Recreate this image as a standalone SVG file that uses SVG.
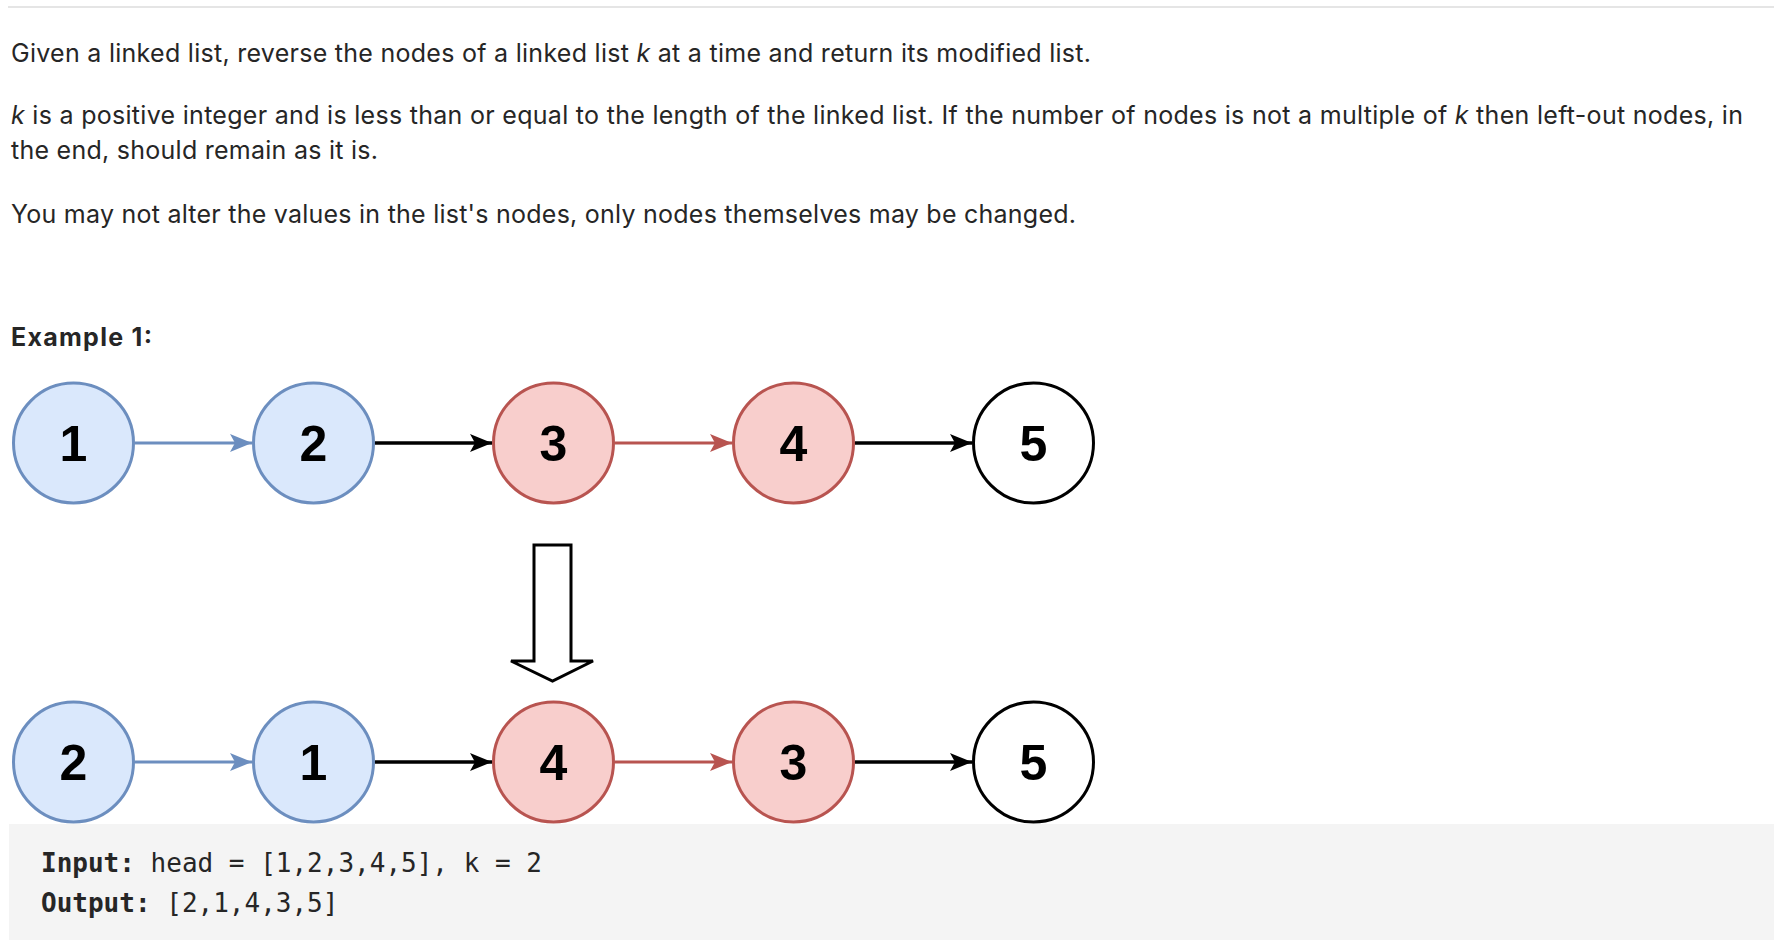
<svg xmlns="http://www.w3.org/2000/svg" width="1774" height="940" viewBox="0 0 1774 940">
<style>
.body{font-family:Inter,"Liberation Sans",sans-serif;font-size:25px;fill:#262626}
.it{font-style:italic}
.bold{font-weight:bold}
.code{font-family:"DejaVu Sans Mono","Liberation Mono",monospace;font-size:26px;fill:#262626}
.num{font-family:"Liberation Sans",Arial,sans-serif;font-size:50px;font-weight:bold;fill:#000;text-anchor:middle}
.blue{fill:#dae8fc;stroke:#6c8ebf;stroke-width:3}
.red{fill:#f8cecc;stroke:#b85450;stroke-width:3}
.plain{fill:#fff;stroke:#000;stroke-width:3}
.eb{stroke:#6c8ebf;stroke-width:3;fill:none;marker-end:url(#ab)}
.er{stroke:#b85450;stroke-width:3;fill:none;marker-end:url(#ar)}
.ek{stroke:#000;stroke-width:3.5;fill:none;marker-end:url(#ak)}
</style>
<defs>
<marker id="ab" markerUnits="userSpaceOnUse" viewBox="0 0 22 18" markerWidth="22" markerHeight="18" refX="22" refY="9" orient="auto"><path d="M0,0 L22,9 L0,18 L5,9 z" fill="#6c8ebf"/></marker>
<marker id="ar" markerUnits="userSpaceOnUse" viewBox="0 0 22 18" markerWidth="22" markerHeight="18" refX="22" refY="9" orient="auto"><path d="M0,0 L22,9 L0,18 L5,9 z" fill="#b85450"/></marker>
<marker id="ak" markerUnits="userSpaceOnUse" viewBox="0 0 22 18" markerWidth="22" markerHeight="18" refX="22" refY="9" orient="auto"><path d="M0,0 L22,9 L0,18 L5,9 z" fill="#000"/></marker>
</defs>
<rect width="1774" height="940" fill="#fff"/>
<line x1="8" y1="7" x2="1774" y2="7" stroke="#e5e5e5" stroke-width="2"/>
<g id="description">
<text class="body" x="11" y="62" textLength="1080" lengthAdjust="spacing">Given a linked list, reverse the nodes of a linked list <tspan class="it">k</tspan> at a time and return its modified list.</text>
<text class="body" x="11" y="124" textLength="1732" lengthAdjust="spacing"><tspan class="it">k</tspan> is a positive integer and is less than or equal to the length of the linked list. If the number of nodes is not a multiple of <tspan class="it">k</tspan> then left-out nodes, in</text>
<text class="body" x="11" y="159" textLength="367" lengthAdjust="spacing">the end, should remain as it is.</text>
<text class="body" x="11" y="223" textLength="1065" lengthAdjust="spacing">You may not alter the values in the list's nodes, only nodes themselves may be changed.</text>
<text class="body bold" x="11" y="346" textLength="141" lengthAdjust="spacing">Example 1:</text>
</g>
<g id="connectors">
<line class="eb" x1="135" y1="443" x2="252" y2="443"/>
<line class="ek" x1="375" y1="443" x2="492" y2="443"/>
<line class="er" x1="615" y1="443" x2="732" y2="443"/>
<line class="ek" x1="855" y1="443" x2="972" y2="443"/>
<line class="eb" x1="135" y1="762" x2="252" y2="762"/>
<line class="ek" x1="375" y1="762" x2="492" y2="762"/>
<line class="er" x1="615" y1="762" x2="732" y2="762"/>
<line class="ek" x1="855" y1="762" x2="972" y2="762"/>
</g>
<g id="top-1"><circle class="blue" cx="73.5" cy="443" r="60"/><text class="num" x="73.5" y="461">1</text></g>
<g id="top-2"><circle class="blue" cx="313.5" cy="443" r="60"/><text class="num" x="313.5" y="461">2</text></g>
<g id="top-3"><circle class="red" cx="553.5" cy="443" r="60"/><text class="num" x="553.5" y="461">3</text></g>
<g id="top-4"><circle class="red" cx="793.5" cy="443" r="60"/><text class="num" x="793.5" y="461">4</text></g>
<g id="top-5"><circle class="plain" cx="1033.5" cy="443" r="60"/><text class="num" x="1033.5" y="461">5</text></g>
<g id="transform-arrow"><path d="M534,545 L571,545 L571,661 L593,661 L552.5,681 L511,661 L534,661 Z" fill="#fff" stroke="#000" stroke-width="3" stroke-linejoin="miter"/></g>
<g id="bot-2"><circle class="blue" cx="73.5" cy="762" r="60"/><text class="num" x="73.5" y="780">2</text></g>
<g id="bot-1"><circle class="blue" cx="313.5" cy="762" r="60"/><text class="num" x="313.5" y="780">1</text></g>
<g id="bot-4"><circle class="red" cx="553.5" cy="762" r="60"/><text class="num" x="553.5" y="780">4</text></g>
<g id="bot-3"><circle class="red" cx="793.5" cy="762" r="60"/><text class="num" x="793.5" y="780">3</text></g>
<g id="bot-5"><circle class="plain" cx="1033.5" cy="762" r="60"/><text class="num" x="1033.5" y="780">5</text></g>
<g id="code-block">
<rect x="9" y="824" width="1765" height="116" fill="#f4f4f4"/>
<text class="code" x="41" y="872"><tspan class="bold">Input:</tspan> head = [1,2,3,4,5], k = 2</text>
<text class="code" x="41" y="912"><tspan class="bold">Output:</tspan> [2,1,4,3,5]</text>
</g>
</svg>
